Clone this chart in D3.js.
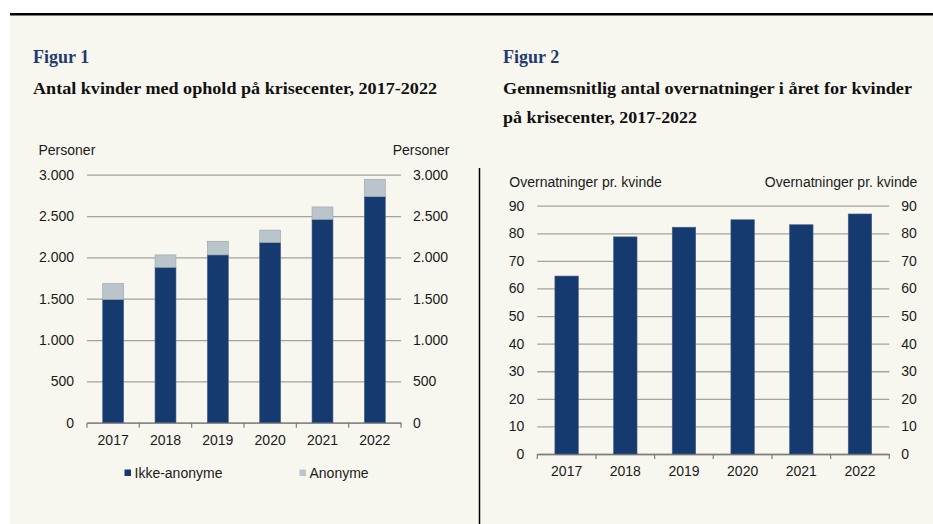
<!DOCTYPE html>
<html>
<head>
<meta charset="utf-8">
<script src="https://cdn.jsdelivr.net/npm/d3@7"></script>
<style>
  body { margin: 0; background: #ffffff; }
  svg { display: block; }
  .tick text { font-family: "Liberation Sans", Arial, sans-serif; font-size: 14px; fill: #1a1a1a; }
</style>
</head>
<body>
<svg></svg>
<script>
let years = ['2017', '2018', '2019', '2020', '2021', '2022']

// Figur 1
let ikkeAnonyme = [1490, 1880, 2030, 2180, 2460, 2735]
let anonyme = [195, 150, 165, 150, 150, 210]
let ticks1 = [0, 500, 1000, 1500, 2000, 2500, 3000]

// Figur 2
let overnatninger = [64.5, 78.7, 82.2, 84.9, 83.1, 87.0]
let ticks2 = [0, 10, 20, 30, 40, 50, 60, 70, 80, 90]

let width = 933
let height = 524

let navy = '#153a70'
let grey = '#b9c5ca'
let gridColor = '#a3a39c'

let svg = d3.select('svg')
    .attr('width', width)
    .attr('height', height)

let locale = d3.formatLocale({ decimal: ',', thousands: '.', grouping: [3], currency: ['', ''] })
let fmt = locale.format(',')

let drawFrame = () => {
    svg.append('rect')
        .attr('x', 10).attr('y', 15)
        .attr('width', width - 10).attr('height', height - 15)
        .attr('fill', '#f8f7ef')
    svg.append('rect')
        .attr('x', 10).attr('y', 13)
        .attr('width', width - 10).attr('height', 2.5)
        .attr('fill', '#000')
    svg.append('line')
        .attr('x1', 479.5).attr('x2', 479.5)
        .attr('y1', 168).attr('y2', height)
        .attr('stroke', '#000')
        .attr('stroke-width', 1.5)
}

let drawTitle = (x, figur, lines, widths) => {
    svg.append('text')
        .attr('x', x).attr('y', 62.5)
        .attr('font-family', '"Liberation Serif", "Times New Roman", serif')
        .attr('font-weight', 'bold')
        .attr('font-size', 18)
        .attr('fill', '#1f3a6e')
        .text(figur)
    lines.forEach((line, i) => {
        svg.append('text')
            .attr('x', x).attr('y', 94 + i * 29)
            .attr('font-family', '"Liberation Serif", "Times New Roman", serif')
            .attr('font-weight', 'bold')
            .attr('font-size', 16.5)
            .attr('fill', '#111')
            .attr('textLength', widths[i])
            .attr('lengthAdjust', 'spacingAndGlyphs')
            .text(line)
    })
}

let drawAxes = (g, xScale, yScale, ticks, unit, unitY, unitOffset, fmtFn) => {
    let [x0, x1] = xScale.range()
    let [y0] = yScale.range()

    let left = g.append('g')
        .attr('transform', 'translate(' + x0 + ',0)')
        .call(d3.axisLeft(yScale).tickValues(ticks).tickSize(-(x1 - x0)).tickPadding(13).tickFormat(fmtFn))
    left.select('.domain').remove()
    left.selectAll('.tick line')
        .attr('stroke', gridColor)
        .attr('stroke-width', 1.3)

    let right = g.append('g')
        .attr('transform', 'translate(' + x1 + ',0)')
        .call(d3.axisRight(yScale).tickValues(ticks).tickSize(0).tickPadding(12).tickFormat(fmtFn))
    right.select('.domain').remove()

    let bottom = g.append('g')
        .attr('transform', 'translate(0,' + y0 + ')')
        .call(d3.axisBottom(xScale).tickSize(0).tickPadding(12))
    bottom.select('.domain')
        .attr('stroke', '#7d7d78')
        .attr('stroke-width', 1.3)

    // tick marks on category boundaries
    g.selectAll('.boundary')
        .data(d3.range(years.length + 1))
        .enter()
        .append('line')
        .attr('class', 'boundary')
        .attr('x1', (i) => x0 + i * xScale.step())
        .attr('x2', (i) => x0 + i * xScale.step())
        .attr('y1', y0)
        .attr('y2', y0 + 5)
        .attr('stroke', '#7d7d78')
        .attr('stroke-width', 1.2)

    g.append('text')
        .attr('x', x0 - unitOffset).attr('y', unitY)
        .attr('font-family', '"Liberation Sans", Arial, sans-serif')
        .attr('font-size', 14).attr('fill', '#1a1a1a')
        .text(unit)
    g.append('text')
        .attr('x', x1 + unitOffset).attr('y', unitY)
        .attr('text-anchor', 'end')
        .attr('font-family', '"Liberation Sans", Arial, sans-serif')
        .attr('font-size', 14).attr('fill', '#1a1a1a')
        .text(unit)
}

let drawFigur1 = () => {
    let g = svg.append('g')
    let xScale = d3.scaleBand().domain(years).range([87, 401]).paddingInner(0.6).paddingOuter(0.3)
    let yScale = d3.scaleLinear().domain([0, 3000]).range([422.7, 174.7])

    drawAxes(g, xScale, yScale, ticks1, 'Personer', 155, 48.5, fmt)

    g.selectAll('.ikke')
        .data(years)
        .enter()
        .append('rect')
        .attr('class', 'ikke')
        .attr('x', (d) => xScale(d))
        .attr('width', xScale.bandwidth())
        .attr('y', (d, i) => yScale(ikkeAnonyme[i]))
        .attr('height', (d, i) => yScale(0) - yScale(ikkeAnonyme[i]))
        .attr('fill', navy)
        .attr('stroke', '#4b6186')
        .attr('stroke-width', 0.6)

    g.selectAll('.anon')
        .data(years)
        .enter()
        .append('rect')
        .attr('class', 'anon')
        .attr('x', (d) => xScale(d))
        .attr('width', xScale.bandwidth())
        .attr('y', (d, i) => yScale(ikkeAnonyme[i] + anonyme[i]))
        .attr('height', (d, i) => yScale(ikkeAnonyme[i]) - yScale(ikkeAnonyme[i] + anonyme[i]))
        .attr('fill', grey)
        .attr('stroke', '#98a4aa')
        .attr('stroke-width', 0.6)

    // legend
    let legend = [['Ikke-anonyme', navy, 124.5], ['Anonyme', grey, 299.5]]
    legend.forEach(([label, color, lx]) => {
        g.append('rect')
            .attr('x', lx).attr('y', 469.5)
            .attr('width', 6.5).attr('height', 6.5)
            .attr('fill', color)
        g.append('text')
            .attr('x', lx + 10).attr('y', 477.5)
            .attr('font-family', '"Liberation Sans", Arial, sans-serif')
            .attr('font-size', 14).attr('fill', '#1a1a1a')
            .text(label)
    })
}

let drawFigur2 = () => {
    let g = svg.append('g')
    let xScale = d3.scaleBand().domain(years).range([537.3, 889.3]).paddingInner(0.6).paddingOuter(0.3)
    let yScale = d3.scaleLinear().domain([0, 90]).range([454, 205.7])

    drawAxes(g, xScale, yScale, ticks2, 'Overnatninger pr. kvinde', 187, 28, d3.format('d'))

    g.selectAll('.bar')
        .data(years)
        .enter()
        .append('rect')
        .attr('class', 'bar')
        .attr('x', (d) => xScale(d))
        .attr('width', xScale.bandwidth())
        .attr('y', (d, i) => yScale(overnatninger[i]))
        .attr('height', (d, i) => yScale(0) - yScale(overnatninger[i]))
        .attr('fill', navy)
        .attr('stroke', '#4b6186')
        .attr('stroke-width', 0.6)
}

drawFrame()
drawTitle(33, 'Figur 1', ['Antal kvinder med ophold på krisecenter, 2017-2022'], [404])
drawTitle(503, 'Figur 2', ['Gennemsnitlig antal overnatninger i året for kvinder', 'på krisecenter, 2017-2022'], [409, 194])
drawFigur1()
drawFigur2()
</script>
</body>
</html>
